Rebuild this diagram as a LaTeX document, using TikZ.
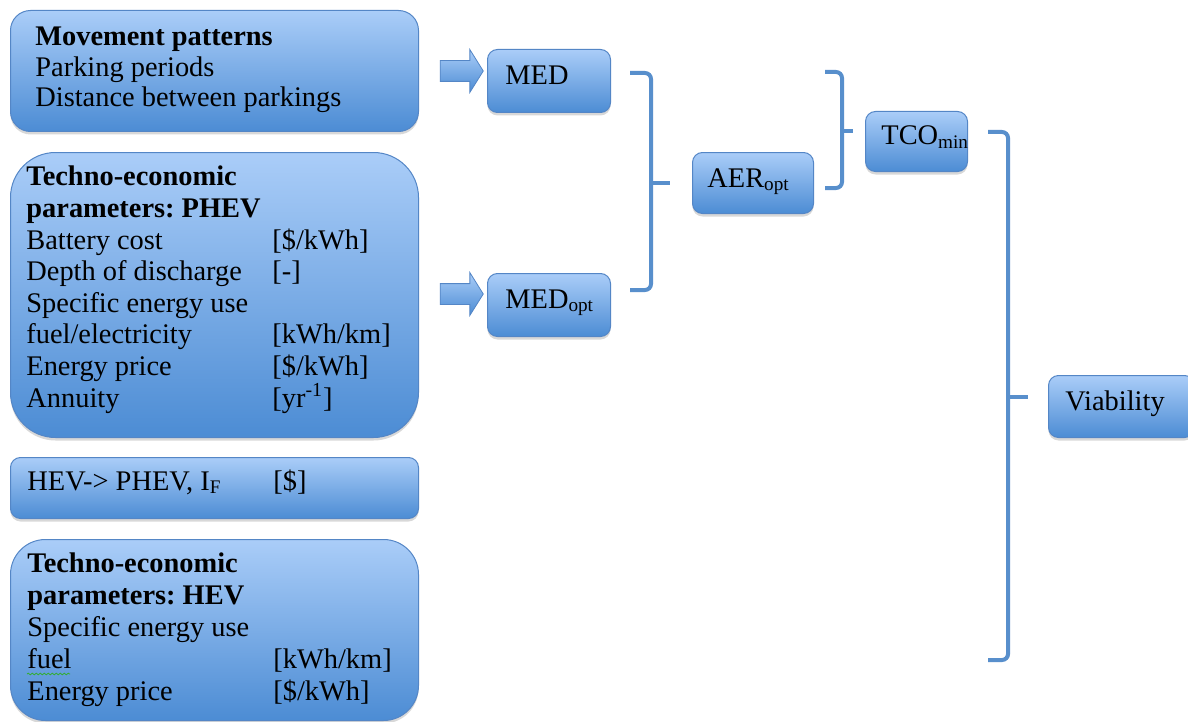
\documentclass[tikz,border=0pt]{standalone}
\usepackage{fontspec}
\setmainfont{Liberation Serif}
\usetikzlibrary{shapes.arrows,shadows,decorations.pathmorphing}

\definecolor{boxtop}{RGB}{170,205,248}
\definecolor{boxbot}{RGB}{76,140,212}
\definecolor{boxline}{RGB}{84,134,198}
\definecolor{bracecol}{RGB}{88,143,204}

\frenchspacing
\newcommand{\urow}[2]{\makebox[123pt][l]{#1}#2}
\newcommand{\lowtxt}[1]{\raisebox{-1.6pt}{\fontsize{9.6pt}{10pt}\selectfont #1}}

\tikzset{pbox/.style={draw=boxline,line width=0.5pt,top color=boxtop,bottom color=boxbot,
           drop shadow={opacity=0.3,shadow xshift=0pt,shadow yshift=-1.5pt},
           anchor=north west,inner sep=0pt,rounded corners=5pt},
         ptxt/.style={anchor=base west,inner sep=0pt,align=left,
           font=\fontsize{14.2pt}{15.8pt}\selectfont},
         pbrace/.style={draw=bracecol,line width=2pt,rounded corners=3pt},
         parrow/.style={single arrow,draw=boxline,line width=0.4pt,top color=boxtop,
           bottom color=boxbot,minimum height=21.5pt,minimum width=21pt,inner xsep=0pt,
           inner ysep=5pt,single arrow head extend=5.5pt,single arrow tip angle=116}}

\begin{document}
\begin{tikzpicture}[x=0.5pt,y=-0.5pt]
  \useasboundingbox (0,0) rectangle (1188,722);
  \clip (0,0) rectangle (1188,722);
  \fill[white] (0,0) rectangle (1188,722);
  % input panels (text nodes sit on the baseline of their last line)
  \node[pbox,rounded corners=10pt,minimum width=204pt,minimum height=60.5pt] (mov) at (10,10) {};
  \node[pbox,rounded corners=22.5pt,minimum width=204pt,minimum height=142.5pt] (phev) at (10,152) {};
  \node[pbox,minimum width=204pt,minimum height=30.5pt] (conv) at (10,457) {};
  \node[pbox,rounded corners=17.5pt,minimum width=204pt,minimum height=90.5pt] (hev) at (10,539) {};
  \node[ptxt,font=\fontsize{14.2pt}{15.5pt}\selectfont] (movtxt) at (35,107)
    {\textbf{Movement patterns}\\ Parking periods\\ Distance between parkings};
  \node[ptxt] (phevtxt) at (26,407)
    {\textbf{Techno-economic}\\ \textbf{parameters: PHEV}\\ \urow{Battery cost}{[\$/kWh]}\\
     \urow{Depth of discharge}{[-]}\\ Specific energy use\\ \urow{fuel/electricity}{[kWh/km]}\\
     \urow{Energy price}{[\$/kWh]}\\ \urow{Annuity}{[yr\textsuperscript{-1}]}};
  \node[ptxt] (convtxt) at (27,490) {\urow{HEV-> PHEV, I\lowtxt{F}}{[\$]}};
  \node[ptxt,font=\fontsize{14.2pt}{16pt}\selectfont] (hevtxt) at (27,700)
    {\textbf{Techno-economic}\\ \textbf{parameters: HEV}\\ Specific energy use\\
     \urow{fuel}{[kWh/km]}\\ \urow{Energy price}{[\$/kWh]}};
  \draw[green!60!black!80,line width=0.4pt,decorate,decoration={snake,amplitude=0.4pt,segment length=2pt}]
    (27,674) -- (70,674);
  % block arrows
  \node[parrow] (arr1) at (458.5,71) {};
  \node[parrow] (arr2) at (458.5,294) {};
  % result boxes
  \node[pbox,minimum width=61.5pt,minimum height=31.5pt] (med) at (487,49) {};
  \node[pbox,minimum width=61.5pt,minimum height=31.5pt] (medopt) at (487,273) {};
  \node[pbox,minimum width=60.5pt,minimum height=30.5pt] (aer) at (692,152) {};
  \node[pbox,minimum width=51pt,minimum height=30pt] (tco) at (865,111) {};
  \node[pbox,minimum width=73pt,minimum height=31pt] (via) at (1048,375) {};
  \node[ptxt] (medtxt) at (505,85) {MED};
  \node[ptxt] (medopttxt) at (505,308) {MED\lowtxt{opt}};
  \node[ptxt] (aertxt) at (707,187) {AER\lowtxt{opt}};
  \node[ptxt] (tcotxt) at (881,145) {TCO\lowtxt{min}};
  \node[ptxt] (viatxt) at (1065,410) {Viability};
  % brackets
  \coordinate (b1t) at (630,73);  \coordinate (b1b) at (630,290);  \coordinate (b1tip) at (670,183);
  \coordinate (b2t) at (825,72);  \coordinate (b2b) at (825,188);  \coordinate (b2tip) at (853,131);
  \coordinate (b3t) at (988,132); \coordinate (b3b) at (988,660);  \coordinate (b3tip) at (1028,397);
  \draw[pbrace] (b1t) -- (651,73) -- (651,290) -- (b1b);
  \draw[pbrace] (651,183) -- (b1tip);
  \draw[pbrace] (b2t) -- (842,72) -- (842,188) -- (b2b);
  \draw[pbrace] (842,131) -- (b2tip);
  \draw[pbrace] (b3t) -- (1008,132) -- (1008,660) -- (b3b);
  \draw[pbrace] (1008,397) -- (b3tip);
\end{tikzpicture}
\end{document}
